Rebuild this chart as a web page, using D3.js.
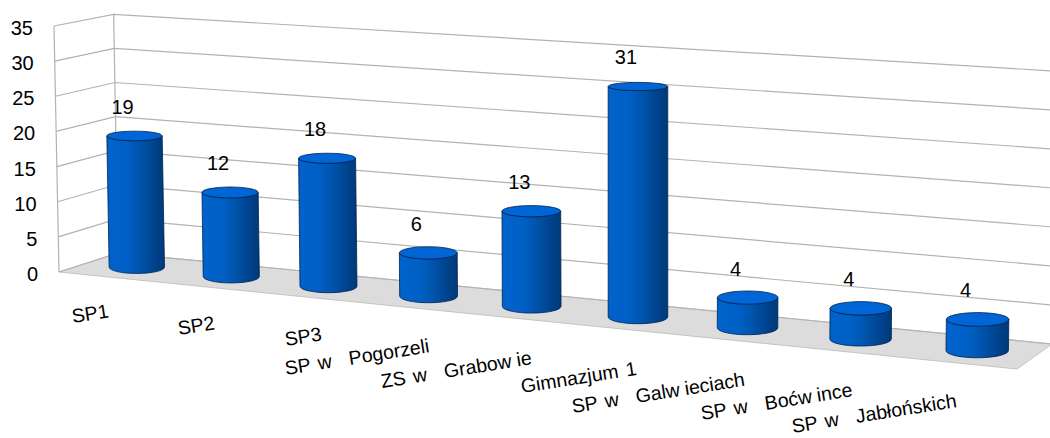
<!DOCTYPE html>
<html>
<head>
<meta charset="utf-8">
<script src="https://cdn.jsdelivr.net/npm/d3@7"></script>
<style>
  html, body { margin: 0; padding: 0; background: #fff; }
  svg { display: block; }
  text { font-family: "Liberation Sans", Arial, sans-serif; fill: #000; }
</style>
</head>
<body>
<div id="chart"></div>
<script>
const categories = ["SP1", "SP2", "SP3", "SP w Pogorzeli", "ZS w Grabowie", "Gimnazjum 1", "SP w Galwieciach", "SP w Boćwince", "SP w Jabłońskich"];
const values = [19, 12, 18, 6, 13, 31, 4, 4, 4];
const valueTicks = [0, 5, 10, 15, 20, 25, 30, 35];

// where each rotated category label starts, not data
const labelStarts = [[73, 323], [179, 335], [286, 346], [286, 375], [382, 388], [522, 393], [573, 413], [702, 420], [793, 433]];

const width = 1050;
const height = 438;

// floor corners on screen: front left, front right, back right, back left
const [fl, fr, br, bl] = [[59, 272], [1017, 369], [1052, 344], [118, 253]];

// perspective of the floor (unit square to quad)
const det = (fr[0] - br[0]) * (bl[1] - br[1]) - (bl[0] - br[0]) * (fr[1] - br[1]);
const sx = fl[0] - fr[0] + br[0] - bl[0];
const sy = fl[1] - fr[1] + br[1] - bl[1];
const g = (sx * (bl[1] - br[1]) - (bl[0] - br[0]) * sy) / det;
const h = ((fr[0] - br[0]) * sy - sx * (fr[1] - br[1])) / det;

const x = d3.scaleBand().domain(categories).range([0.002, 1.002]);
const y = d3.scaleLinear().domain([0, 35]).range([0, 246]);

function depthScale(u, d) {
  return 1 + g * u + h * d;
}

// u along the floor, d into the picture, v the value
function project(u, d, v) {
  const w = depthScale(u, d);
  const px = (fl[0] + (fr[0] * (1 + g) - fl[0]) * u + (bl[0] * (1 + h) - fl[0]) * d) / w;
  const py = (fl[1] + (fr[1] * (1 + g) - fl[1]) * u + (bl[1] * (1 + h) - fl[1]) * d) / w;
  const lift = y(v) / w;
  return [px + (px - 640) * 3.5e-5 * lift, py - lift];
}

const svg = d3.select("#chart")
  .append("svg")
  .attr("width", width)
  .attr("height", height);

const defs = svg.append("defs");
const gradient = defs.append("linearGradient").attr("id", "body");
[[0, "#0062cc"], [0.35, "#0060c6"], [0.6, "#0052a8"], [0.85, "#00418a"], [1, "#003a78"]].forEach(([o, c]) => {
  gradient.append("stop").attr("offset", o).attr("stop-color", c);
});

const line = d3.line();

// Floor
svg.append("path")
  .attr("d", line([project(0, 0, 0), project(1, 0, 0), project(1, 1, 0), project(0, 1, 0)]) + "Z")
  .attr("fill", "#dcdcdc")
  .attr("stroke", "#c4c4c4");

// Walls
const wall = svg.append("g")
  .attr("fill", "none")
  .attr("stroke", "#b2b2b2")
  .attr("stroke-width", 1.2);

wall.selectAll(".back")
  .data(valueTicks)
  .enter()
  .append("path")
  .attr("d", (v) => line([project(0, 0, v), project(0, 1, v), project(1, 1, v)]));

wall.append("path").attr("d", line([project(0, 0, 0), project(0, 0, 35)]));
wall.append("path").attr("d", line([project(0, 1, 0), project(0, 1, 35)]));

// Cylinders
const bars = svg.append("g")
  .selectAll("g")
  .data(categories.map((name, i) => ({ name, value: values[i] })))
  .enter()
  .append("g");

function cylinder(d) {
  const u = x(d.name) + x.bandwidth() / 2;
  const w = depthScale(u, 0.5);
  const rx = 27.9 / w;
  return {
    base: project(u, 0.5, 0),
    // the cylinders stop just short of the gridline height
    top: project(u, 0.5, d.value * 0.99),
    rx,
    ryBase: rx * 0.23,
    ryTop: rx * (0.23 - 0.003 * d.value),
  };
}

bars.append("path")
  .attr("fill", "url(#body)")
  .attr("stroke", "#00224f")
  .attr("stroke-width", 0.8)
  .attr("d", (d) => {
    const c = cylinder(d);
    return `M${c.top[0] - c.rx},${c.top[1]}L${c.base[0] - c.rx},${c.base[1]}` +
      `A${c.rx},${c.ryBase} 0 0 0 ${c.base[0] + c.rx},${c.base[1]}` +
      `L${c.top[0] + c.rx},${c.top[1]}` +
      `A${c.rx},${c.ryTop} 0 0 1 ${c.top[0] - c.rx},${c.top[1]}Z`;
  });

bars.append("ellipse")
  .attr("fill", "#0066d6")
  .attr("stroke", "#00224f")
  .attr("stroke-width", 0.8)
  .attr("cx", (d) => cylinder(d).top[0])
  .attr("cy", (d) => cylinder(d).top[1])
  .attr("rx", (d) => cylinder(d).rx)
  .attr("ry", (d) => cylinder(d).ryTop);

// Value labels
bars.append("text")
  .attr("text-anchor", "middle")
  .attr("font-size", 20)
  .attr("x", (d) => cylinder(d).top[0] - 12)
  .attr("y", (d) => cylinder(d).top[1] - 22)
  .text((d) => d.value);

// Axis labels
svg.append("g")
  .selectAll("text")
  .data(valueTicks)
  .enter()
  .append("text")
  .attr("text-anchor", "end")
  .attr("font-size", 20)
  .attr("x", (v) => project(0, 0, v)[0] - 21)
  .attr("y", (v) => project(0, 0, v)[1] + 9)
  .text((v) => v);

// Category labels, the source leaves a gap after every w
const catLabels = svg.append("g")
  .selectAll("text")
  .data(categories)
  .enter()
  .append("text")
  .attr("font-size", 19.5)
  .attr("word-spacing", 2)
  .attr("transform", (d, i) => `translate(${labelStarts[i][0]},${labelStarts[i][1]}) rotate(-9)`);

catLabels.selectAll("tspan")
  .data((d) => d.split(/(?<=w)/))
  .enter()
  .append("tspan")
  .attr("dx", (d, i) => (i === 0 ? 0 : d.startsWith(" ") ? 10 : 5))
  .text((d) => d);
</script>
</body>
</html>
